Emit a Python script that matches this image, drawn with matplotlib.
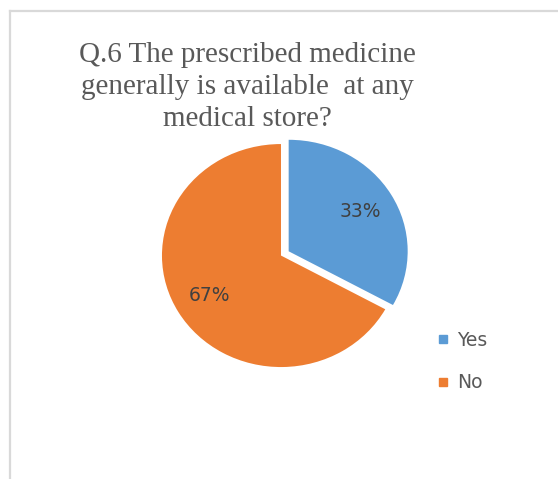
import matplotlib.pyplot as plt
from matplotlib.lines import Line2D

# chart data
labels = ["Yes", "No"]
values = [33, 67]
colors = ["#5B9BD5", "#ED7D31"]
title_lines = ["Q.6 The prescribed medicine",
               "generally is available  at any",
               "medical store?"]

W, H = 558, 479
fig = plt.figure(figsize=(W / 100, H / 100), dpi=100)

# light gray chart border (top + left edge visible)
fig.add_artist(Line2D([10 / W, 10 / W], [0, 1 - 11 / H], color="#D9D9D9", lw=1.6))
fig.add_artist(Line2D([10 / W, 1], [1 - 11 / H, 1 - 11 / H], color="#D9D9D9", lw=1.6))

# title, serif like the original
for i, line in enumerate(title_lines):
    fig.text(247 / W, 1 - (62 + 32 * i) / H, line, ha="center", va="baseline",
             fontsize=21, family="Liberation Serif", color="#595959")

# pie axes, slightly wider than tall like the source
ax = fig.add_axes([0.2263, 0.1639, 0.5545, 0.6052])
wedges, texts, autotexts = ax.pie(
    values, colors=colors, startangle=90, counterclock=False,
    explode=[0.075, 0], autopct="%1.0f%%", pctdistance=0.7,
    wedgeprops=dict(linewidth=0),
    textprops=dict(fontsize=13.5, color="#404040"))
ax.set_aspect("auto")
ax.set_xlim(-1.3, 1.3)
ax.set_ylim(-1.3, 1.3)

# legend
handles = [Line2D([], [], marker="s", linestyle="", markersize=5.2,
                  color=c) for c in colors]
leg = fig.legend(handles, labels, loc="upper left",
                 bbox_to_anchor=(436 / W, 1 - 331 / H), frameon=False,
                 borderpad=0, borderaxespad=0, handlelength=0.75,
                 handletextpad=0.4, labelspacing=1.25, fontsize=13.5)
for t in leg.get_texts():
    t.set_color("#595959")

fig.savefig("out.png", dpi=100)
